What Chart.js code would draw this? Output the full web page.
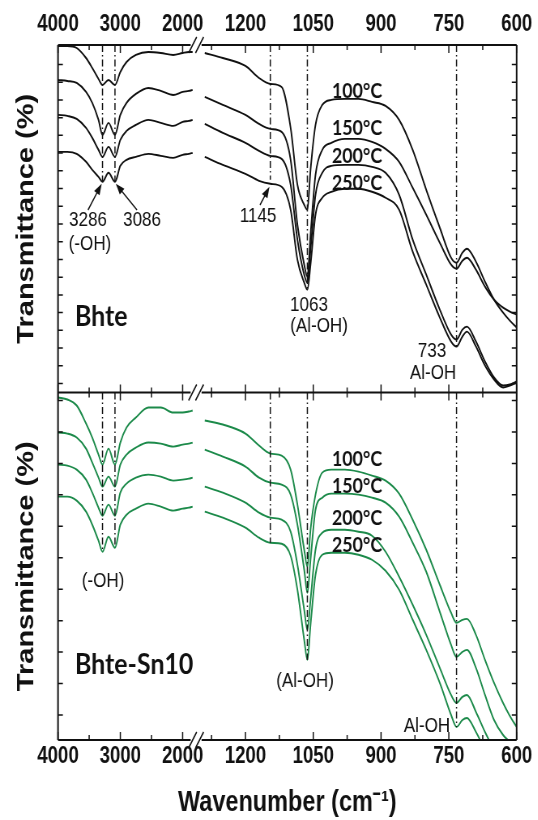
<!DOCTYPE html>
<html>
<head>
<meta charset="utf-8">
<script src="https://cdn.jsdelivr.net/npm/chart.js@4.4.1/dist/chart.umd.min.js"></script>
<style>
  html, body { margin: 0; padding: 0; background: #fff; overflow: hidden; }
  /* the original figure is squeezed horizontally; draw wide and squeeze the canvas */
  #ftir { transform: scaleX(0.81); transform-origin: 0 0; display: block; }
</style>
</head>
<body>
<canvas id="ftir" width="664" height="820"></canvas>
<script>
// wavenumbers (cm-1), left of the axis break and right of it
const waveLeft = [4000, 3850, 3700, 3550, 3450, 3350, 3286, 3190, 3086, 3000, 2900, 2750, 2550, 2350, 2150, 2000, 1900, 1840];
const waveRight = [1290, 1250, 1200, 1170, 1145, 1120, 1100, 1085, 1070, 1063, 1056, 1045, 1030, 1010, 980, 950, 920, 890, 860, 830, 800, 770, 745, 733, 720, 710, 690, 670, 650, 630, 615, 600];
const wavenumbers = waveLeft.concat(waveRight);

const temps = ['100°C', '150°C', '200°C', '250°C'];

// transmittance (arbitrary units, offset curves) - Bhte panel
const bhte100 = [347, 347, 345, 335, 325, 314, 308, 313, 308, 321, 331, 338, 341, 340, 338, 340, 341, 341,
  340, 335, 327, 315, 309, 306, 265, 208, 188, 183, 223, 268, 288, 293, 294, 294, 291, 287, 273, 243, 203, 165, 135, 130, 140, 144, 131, 111, 93, 80, 72, 65];
const bhte150 = [313, 312, 310, 301, 290, 273, 258, 270, 258, 278, 290, 299, 305, 302, 298, 301, 302, 303,
  296, 288, 278, 269, 264, 261, 233, 168, 128, 116, 158, 218, 243, 250, 254, 254, 251, 244, 231, 205, 178, 150, 128, 124, 132, 135, 123, 106, 93, 85, 81, 78];
const bhte200 = [278, 277, 274, 265, 255, 243, 236, 246, 236, 253, 262, 268, 273, 270, 267, 271, 272, 273,
  269, 260, 250, 242, 237, 234, 208, 153, 118, 110, 143, 198, 220, 227, 228, 228, 226, 220, 198, 153, 118, 83, 58, 53, 63, 66, 51, 31, 15, 7, 8, 11];
const bhte250 = [241, 241, 239, 231, 223, 216, 211, 220, 211, 227, 233, 236, 239, 237, 235, 238, 239, 240,
  236, 228, 219, 212, 209, 206, 183, 133, 110, 103, 128, 178, 195, 201, 204, 204, 201, 195, 183, 141, 108, 75, 51, 46, 56, 61, 46, 27, 13, 5, 7, 10];

// Bhte-Sn10 panel
const sn100 = [342, 340, 334, 316, 302, 285, 275, 291, 275, 297, 312, 322, 332, 332, 327, 327, 328, 329,
  319, 315, 306, 294, 286, 284, 270, 235, 190, 173, 210, 245, 267, 270, 270, 268, 264, 259, 246, 220, 190, 155, 127, 117, 120, 121, 105, 80, 57, 37, 24, 13];
const sn150 = [307, 306, 302, 291, 277, 262, 253, 263, 253, 275, 285, 292, 297, 296, 293, 295, 296, 297,
  290, 283, 273, 262, 257, 255, 245, 215, 170, 147, 180, 230, 242, 246, 246, 245, 242, 237, 223, 197, 168, 128, 95, 83, 88, 90, 72, 45, 20, 5, -2, -10];
const sn200 = [275, 274, 270, 260, 247, 232, 224, 235, 224, 247, 256, 262, 265, 263, 259, 260, 261, 262,
  253, 247, 237, 227, 222, 220, 208, 175, 130, 110, 140, 190, 207, 210, 210, 208, 204, 188, 163, 135, 105, 72, 45, 37, 43, 45, 28, 8, -10];
const sn250 = [243, 243, 239, 228, 215, 199, 188, 203, 192, 215, 225, 231, 236, 233, 229, 231, 232, 233,
  228, 222, 212, 202, 197, 196, 184, 150, 100, 80, 115, 165, 185, 187, 187, 185, 180, 169, 150, 120, 90, 57, 25, 13, 20, 22, 8, -10];

// axis ticks (empty label = minor tick)
const tickWaves = [4000, 3500, 3000, 2500, 2000, 1275, 1200, 1125, 1050, 975, 900, 825, 750, 675, 600];
const tickLabels = ['4000', '', '3000', '', '2000', '', '1200', '', '1050', '', '900', '', '750', '', '600'];

// marked bands and how far down the dash-dot guide runs in each panel
const peakWaves = [3286, 3086, 1145, 1063, 733];
const peakEndTop = [211, 211, 213, 103, 45];
const peakEndBot = [188, 193, 197, 80, 13];

const black = '#111111';
const green = '#1c8a4a';
const SQ = 0.81;              // horizontal squeeze applied by CSS
const X = px => px / SQ;      // page x -> canvas x

// broken wavenumber axis: 4000-1840 compressed, 1290-600 expanded
function brokenPos(w) {
  return w >= 1840 ? (4000 - w) / 16 : 154 + (1275 - w) * 68 / 150;
}
const GAP = 140;

function curve(values, axis, color) {
  const pts = [];
  values.forEach((v, i) => {
    if (i === waveLeft.length) pts.push({ x: GAP, y: null });
    pts.push({ x: brokenPos(wavenumbers[i]), y: v });
  });
  return {
    data: pts, yAxisID: axis, borderColor: color, borderWidth: 1.9,
    pointRadius: 0, tension: 0.4, cubicInterpolationMode: 'monotone', spanGaps: false
  };
}

function guide(w, yFrom, yTo, axis) {
  return {
    data: [{ x: brokenPos(w), y: yFrom }, { x: brokenPos(w), y: yTo }],
    yAxisID: axis, borderColor: black, borderWidth: 1.5, borderDash: [7, 3, 1.5, 3],
    pointRadius: 0, tension: 0
  };
}

const datasets = [];
peakWaves.forEach((w, i) => {
  datasets.push(guide(w, 348, peakEndTop[i], 'yTop'));
  datasets.push(guide(w, 347, peakEndBot[i], 'yBot'));
});
[bhte100, bhte150, bhte200, bhte250].forEach(s => datasets.push(curve(s, 'yTop', black)));
[sn100, sn150, sn200, sn250].forEach(s => datasets.push(curve(s, 'yBot', green)));

function text(ctx, str, x, y, font, sx, align) {
  ctx.save();
  ctx.translate(X(x), y);
  ctx.scale(sx, 1);
  ctx.font = font;
  ctx.textAlign = align || 'center';
  ctx.textBaseline = 'middle';
  ctx.fillText(str, 0, 0);
  ctx.restore();
}

function arrow(ctx, x1, y1, x2, y2) {
  const a = Math.atan2(y2 - y1, x2 - x1);
  ctx.beginPath();
  ctx.moveTo(x1, y1);
  ctx.lineTo(x2 - 7 * Math.cos(a), y2 - 7 * Math.sin(a));
  ctx.stroke();
  ctx.beginPath();
  ctx.moveTo(x2, y2);
  ctx.lineTo(x2 - 11 * Math.cos(a) + 4 * Math.sin(a), y2 - 11 * Math.sin(a) - 4 * Math.cos(a));
  ctx.lineTo(x2 - 11 * Math.cos(a) - 4 * Math.sin(a), y2 - 11 * Math.sin(a) + 4 * Math.cos(a));
  ctx.closePath();
  ctx.fill();
}

const decor = {
  id: 'decor',
  afterDatasetsDraw(chart) {
    const { ctx } = chart;
    const xs = chart.scales.x, yT = chart.scales.yTop, yB = chart.scales.yBot;
    const L = xs.left, R = xs.right;
    const gapL = xs.getPixelForValue(133), gapR = xs.getPixelForValue(144);
    ctx.save();
    ctx.strokeStyle = black;
    ctx.fillStyle = black;
    ctx.lineWidth = 2;
    ctx.beginPath();
    ctx.moveTo(L, yT.top); ctx.lineTo(L, yB.bottom);
    ctx.moveTo(R, yT.top); ctx.lineTo(R, yB.bottom);
    [yT.top, yT.bottom, yB.bottom].forEach(y => {
      ctx.moveTo(L, y); ctx.lineTo(gapL, y);
      ctx.moveTo(gapR, y); ctx.lineTo(R, y);
    });
    ctx.stroke();
    ctx.lineWidth = 1.5;
    ctx.beginPath();
    [yT.top, yT.bottom, yB.bottom].forEach(y => {
      [gapL + 2.5, gapR - 2.5].forEach(x => { ctx.moveTo(x - 5, y + 8); ctx.lineTo(x + 5, y - 8); });
    });
    // inward ticks
    tickWaves.forEach((w, i) => {
      const x = xs.getPixelForValue(brokenPos(w));
      const len = tickLabels[i] ? 8 : 5;
      ctx.moveTo(x, yT.top); ctx.lineTo(x, yT.top + len);
      ctx.moveTo(x, yT.bottom - len); ctx.lineTo(x, yT.bottom + len);
      ctx.moveTo(x, yB.bottom); ctx.lineTo(x, yB.bottom - len);
    });
    [[yT, 9, 17.75], [yB, 25, 31.4]].forEach(([s, start, step]) => {
      for (let v = start; v < s.max - 3; v += step) {
        const y = s.getPixelForValue(v);
        ctx.moveTo(L, y); ctx.lineTo(L + 6, y);
        ctx.moveTo(R, y); ctx.lineTo(R - 6, y);
      }
    });
    ctx.stroke();

    // arrows to the marked bands (Bhte, 250 °C curve)
    ctx.lineWidth = 1.4;
    const px = w => xs.getPixelForValue(brokenPos(w));
    const atTop = w => yT.getPixelForValue(bhte250[wavenumbers.indexOf(w)]);
    arrow(ctx, X(88), 210, px(3286) - 1, atTop(3286) + 2);
    arrow(ctx, X(137), 210, px(3086) + 1, atTop(3086) + 2);
    arrow(ctx, X(260), 205, px(1145) - 1, atTop(1145) + 3);

    const reg = "21px 'Liberation Sans', Arial, sans-serif";
    text(ctx, '3286', 88, 220, reg, 1);
    text(ctx, '(-OH)', 90, 244, reg, 1);
    text(ctx, '3086', 142, 220, reg, 1);
    text(ctx, '1145', 258, 216, reg, 1);
    text(ctx, '1063', 309, 305, reg, 1);
    text(ctx, '(Al-OH)', 319, 326, reg, 1);
    text(ctx, '733', 432, 351, reg, 1);
    text(ctx, 'Al-OH', 433, 373, reg, 1);
    text(ctx, '(-OH)', 103, 581, reg, 1);
    text(ctx, '(Al-OH)', 305, 681, reg, 1);
    text(ctx, 'Al-OH', 427, 726, reg, 1);

    const tf = "bold 21px Lato, 'Open Sans', sans-serif";
    const tempTopY = [91, 128, 156, 183];
    const tempBotY = [459, 486, 518, 545];
    temps.forEach((t, i) => {
      text(ctx, t, 357, tempTopY[i], tf, 1.05);
      text(ctx, t, 357, tempBotY[i], tf, 1.05);
    });
    const nf = "bold 28px Lato, 'Open Sans', sans-serif";
    text(ctx, 'Bhte', 75, 317, nf, 1.1, 'left');
    text(ctx, 'Bhte-Sn10', 75, 665, nf, 1.1, 'left');
    ctx.restore();
  }
};

const arialBold = { family: "'Liberation Sans', Arial, sans-serif", weight: 'bold' };

function xAxis(position, height, padding, title) {
  return {
    type: 'linear', position, min: 0, max: 460,
    grid: { display: false, drawTicks: false },
    border: { display: false },
    afterBuildTicks: s => { s.ticks = tickWaves.map(w => ({ value: brokenPos(w) })); },
    afterFit: s => { s.height = height; },
    ticks: {
      autoSkip: false, maxRotation: 0, padding, color: black,
      font: Object.assign({ size: 23 }, arialBold),
      callback: (v, i) => tickLabels[i]
    },
    title: title
  };
}

function yAxis(max, weight) {
  return {
    type: 'linear', position: 'left', stack: 'panels', stackWeight: 1, weight,
    min: 0, max,
    grid: { display: false, drawTicks: false },
    border: { display: false },
    ticks: { display: false },
    afterFit: s => { s.width = X(58); },
    title: {
      display: true, text: 'Transmittance (%)', color: black,
      font: Object.assign({ size: 29 }, arialBold),
      padding: { top: X(27) - 17.4, bottom: 0 }
    }
  };
}

new Chart(document.getElementById('ftir'), {
  type: 'line',
  data: { datasets },
  options: {
    responsive: false,
    animation: false,
    layout: { padding: { right: 664 - X(518) } },
    plugins: { legend: { display: false }, tooltip: { enabled: false } },
    scales: {
      x: xAxis('bottom', 80, 3, {
        display: true, text: 'Wavenumber (cm\u207B\u00B9)', color: black,
        font: Object.assign({ size: 29 }, arialBold),
        padding: { top: 0, bottom: 0 }
      }),
      xTop: xAxis('top', 45, 7, { display: false }),
      yBot: yAxis(347, 0),
      yTop: yAxis(348, 1)
    }
  },
  plugins: [decor]
});
</script>
</body>
</html>
